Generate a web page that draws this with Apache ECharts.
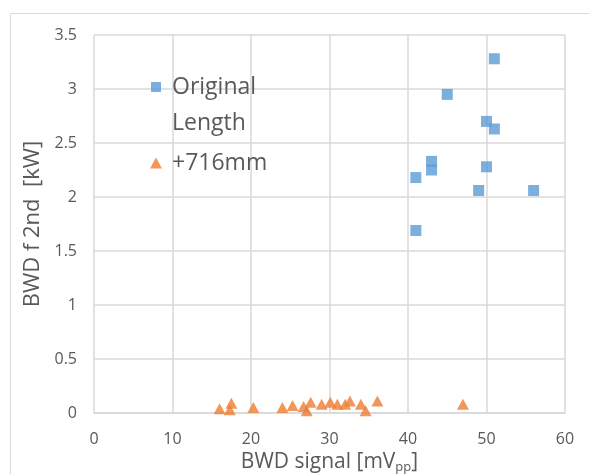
<!DOCTYPE html>
<html>
<head>
<meta charset="utf-8">
<script src="https://cdn.jsdelivr.net/npm/echarts@6/dist/echarts.min.js"></script>
<style>
  html, body { margin: 0; padding: 0; background: #fff; }
  #chart { width: 589px; height: 474px; }
</style>
</head>
<body>
<div id="chart"></div>
<script>
// 原始長度 (x: BWD signal mVpp, y: kW)
const originalLength = [
  [51, 3.28], [45, 2.95], [50, 2.70], [51, 2.63],
  [43, 2.33], [43, 2.25], [50, 2.28], [41, 2.18],
  [49, 2.06], [56, 2.06], [41, 1.69]
];
// +716mm
const plus716 = [
  [16, 0.04], [17.3, 0.03], [17.5, 0.09], [20.3, 0.05], [24, 0.05],
  [25.3, 0.07], [26.7, 0.06], [27.1, 0.02], [27.6, 0.10], [29, 0.08],
  [30.1, 0.10], [31, 0.08], [32, 0.08], [32.6, 0.11], [34, 0.08],
  [34.6, 0.02], [36.1, 0.11], [47, 0.08]
];
const seriesNames = ["Original Length", "+716mm"];

const textColor = "#595959";
const gridColor = "#D9D9D9";
const font = "Open Sans";

const chart = echarts.init(document.getElementById("chart"));
const option = {
  animation: false,
  backgroundColor: "#fff",
  textStyle: { fontFamily: font },
  graphic: [
    {
      type: "rect",
      shape: { x: 10.5, y: 13.5, width: 600, height: 500 },
      style: { fill: "none", stroke: gridColor, lineWidth: 1 },
      silent: true
    }
  ],
  grid: { left: 94, right: 24, top: 35, bottom: 61, outerBoundsMode: "none" },
  legend: [
    {
      data: [seriesNames[0]],
      left: 151,
      top: 33,
      padding: 0,
      itemWidth: 10,
      itemHeight: 10,
      // 空行讓圖示對齊第一行
      formatter: () => "\u00a0\nOriginal\nLength",
      textStyle: {
        color: textColor, fontFamily: font, fontSize: 23,
        lineHeight: 36, padding: [0, 0, 0, 6]
      }
    },
    {
      data: [seriesNames[1]],
      left: 150,
      top: 148,
      padding: 0,
      itemWidth: 12,
      itemHeight: 11,
      textStyle: {
        color: textColor, fontFamily: font, fontSize: 23,
        lineHeight: 30, padding: [0, 0, 0, 5]
      }
    }
  ],
  xAxis: {
    type: "value",
    min: 0, max: 60, interval: 10,
    name: "{a|BWD signal [mV}{b|pp}{a|]}",
    nameLocation: "middle",
    nameGap: 34,
    nameTextStyle: {
      rich: {
        a: { fontSize: 21, color: textColor, fontFamily: font },
        b: { fontSize: 13, color: textColor, fontFamily: font, padding: [10, 0, 0, 0] }
      }
    },
    axisLine: { lineStyle: { color: gridColor, width: 1.5 } },
    axisTick: { show: false },
    axisLabel: { color: textColor, fontSize: 16, margin: 18 },
    splitLine: { lineStyle: { color: gridColor, width: 1.5 } }
  },
  yAxis: {
    type: "value",
    min: 0, max: 3.5, interval: 0.5,
    name: "BWD f 2nd  [kW]",
    nameLocation: "middle",
    nameGap: 48,
    nameTextStyle: { color: textColor, fontSize: 22, fontFamily: font },
    axisLine: { show: false },
    axisTick: { show: false },
    axisLabel: { color: textColor, fontSize: 16, margin: 17 },
    splitLine: { lineStyle: { color: gridColor, width: 1.5 } }
  },
  series: [
    {
      name: seriesNames[0],
      type: "scatter",
      symbol: "rect",
      symbolSize: 11,
      itemStyle: { color: "#5B9BD5" },
      data: originalLength
    },
    {
      name: seriesNames[1],
      type: "scatter",
      symbol: "triangle",
      symbolSize: [12, 11],
      itemStyle: { color: "#ED7D31" },
      data: plus716
    }
  ]
};
chart.setOption(option);
</script>
</body>
</html>
